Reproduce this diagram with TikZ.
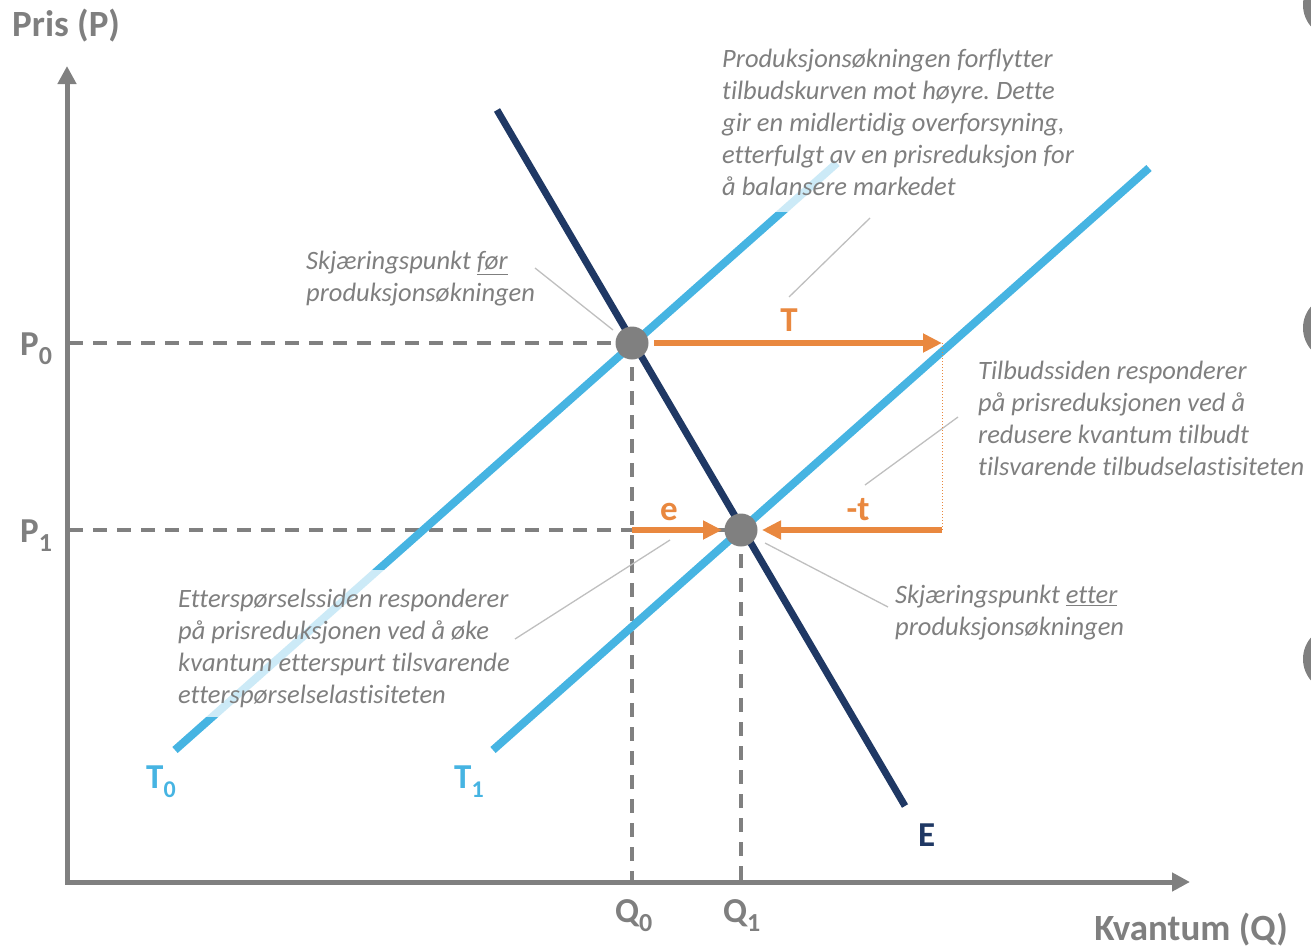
\documentclass[tikz,border=0pt]{standalone}
\usepackage{fontspec}
\setmainfont{Carlito}[Ligatures={NoCommon}]
\usetikzlibrary{arrows.meta}
\definecolor{axgrey}{HTML}{808080}
\definecolor{txtgrey}{HTML}{7F7F7F}
\definecolor{leadgrey}{HTML}{BFBFBF}
\definecolor{tblue}{HTML}{46B4E2}
\definecolor{navy}{HTML}{1F3864}
\definecolor{orng}{HTML}{E9883F}
\newcommand{\lsub}[1]{\raisebox{-9pt}{\fontsize{26}{26}\selectfont #1}}
\newcommand{\tsub}[1]{\raisebox{-9pt}{\fontsize{24}{24}\selectfont #1}}
\frenchspacing
\begin{document}
\begin{tikzpicture}[x=1pt,y=-1pt,
  axis/.style={draw=axgrey,line width=5pt,-{Triangle[length=18pt,width=18pt]}},
  guide/.style={draw=axgrey,line width=4pt,dash pattern=on 14pt off 10pt},
  supply/.style={draw=tblue,line width=8pt},
  demand/.style={draw=navy,line width=7pt},
  fade/.style={fill=white,fill opacity=0.73},
  annot/.style={font=\fontsize{26.5}{32}\selectfont\itshape,text=txtgrey,align=left,anchor=north west,inner sep=0pt},
  biglab/.style={font=\fontsize{35}{40}\selectfont\bfseries,inner sep=0pt},
  axlab/.style={font=\fontsize{37}{42}\selectfont\bfseries,inner sep=0pt,text=txtgrey},
  leader/.style={draw=leadgrey,line width=1.3pt},
  oarrow/.style={draw=orng,line width=6pt,-{Triangle[length=19pt,width=18pt]}},
  dot/.style={circle,fill=axgrey,minimum size=33pt,inner sep=0pt},
  edgedot/.style={fill=axgrey}]
\useasboundingbox (0,0) rectangle (1311,950);
\clip (0,0) rectangle (1311,950);

% coordinates
\coordinate (Ytop) at (67,66);
\coordinate (Xend) at (1190,882);
\coordinate (P0a) at (69,343);
\coordinate (P1a) at (69,530);
\coordinate (Q0a) at (632,882);
\coordinate (Q1a) at (741,882);
\coordinate (A) at (632,343);
\coordinate (B) at (741,530);
\coordinate (T0s) at (175,750);
\coordinate (T0e) at (837,163);
\coordinate (T1s) at (493,750);
\coordinate (T1e) at (1149,168);
\coordinate (Es) at (497,110);
\coordinate (Ee) at (905,806);
\coordinate (Tr) at (942,343);
\coordinate (Br) at (942,530);

% dashed guides
\draw[guide] (P0a) -- (A);
\draw[guide] (P1a) -- (B);
\draw[guide] (A) -- (Q0a);
\draw[guide] (B) -- (Q1a);

% axes
\draw[axis] (67,884) -- (Ytop);
\draw[axis] (65,882) -- (Xend);

% curves
\draw[supply] (T0s) -- (T0e);
\draw[supply] (T1s) -- (T1e);
\draw[demand] (Es) -- (Ee);

% fades behind text boxes
\fill[fade] (716,36) rectangle (1085,212);
\fill[fade] (172,570) rectangle (516,717);

% annotations
\node[annot] (n1) at (722,49) {Produksjonsøkningen forflytter\\tilbudskurven mot høyre. Dette\\gir en midlertidig overforsyning,\\etterfulgt av en prisreduksjon for\\å balansere markedet};
\node[annot] (n2) at (306,251) {Skjæringspunkt \underline{før}\\produksjonsøkningen};
\node[annot] (n3) at (978,361) {Tilbudssiden responderer\\på prisreduksjonen ved å\\redusere kvantum tilbudt\\tilsvarende tilbudselastisiteten};
\node[annot] (n4) at (178,589) {Etterspørselssiden responderer\\på prisreduksjonen ved å øke\\kvantum etterspurt tilsvarende\\etterspørselselastisiteten};
\node[annot] (n5) at (895,585) {Skjæringspunkt \underline{etter}\\produksjonsøkningen};

% leader lines
\coordinate (l1a) at (535,268); \coordinate (l1b) at (613,330);
\coordinate (l2a) at (870,218); \coordinate (l2b) at (789,297);
\coordinate (l3a) at (958,417); \coordinate (l3b) at (865,485);
\coordinate (l4a) at (515,639); \coordinate (l4b) at (670,540);
\coordinate (l5a) at (765,543); \coordinate (l5b) at (888,607);
\draw[leader] (l1a) -- (l1b);
\draw[leader] (l2a) -- (l2b);
\draw[leader] (l3a) -- (l3b);
\draw[leader] (l4a) -- (l4b);
\draw[leader] (l5a) -- (l5b);

% orange arrows
\draw[orng,line width=1pt,dotted] (Tr) -- (Br);
\coordinate (Ts) at (654,343);
\coordinate (es) at (632,530);
\coordinate (et) at (722,530);
\coordinate (mt) at (762,530);
\draw[oarrow] (Ts) -- (Tr);
\draw[oarrow] (es) -- (et);
\draw[oarrow] (Br) -- (mt);

% intersection points
\node[dot] (D0) at (A) {};
\node[dot] (D1) at (B) {};

% labels
\node[axlab,anchor=base west] (py) at (12,37) {Pris (P)};
\node[axlab,anchor=base east] (qx) at (1288,940) {Kvantum (Q)};
\node[biglab,text=txtgrey,anchor=base west] (lp0) at (20,355) {P\lsub{0}};
\node[biglab,text=txtgrey,anchor=base west] (lp1) at (20,542) {P\lsub{1}};
\node[biglab,text=txtgrey,anchor=base west] (lq0) at (615,922) {Q\lsub{0}};
\node[biglab,text=txtgrey,anchor=base west] (lq1) at (723,922) {Q\lsub{1}};
\node[biglab,text=tblue,anchor=base west] (lt0) at (146,788) {T\tsub{0}};
\node[biglab,text=tblue,anchor=base west] (lt1) at (454,788) {T\tsub{1}};
\node[biglab,text=navy,anchor=base west] (le) at (918,846) {E};
\node[biglab,text=orng,anchor=base] (lT) at (789,331) {T};
\node[biglab,text=orng,anchor=base] (lee) at (669,520) {e};
\node[biglab,text=orng,anchor=base] (lmt) at (858,520) {-t};

% partial circles at right edge
\fill[edgedot] (1336,5) circle (33);
\fill[edgedot] (1336,328) circle (33);
\fill[edgedot] (1336,659) circle (33);
\end{tikzpicture}
\end{document}
